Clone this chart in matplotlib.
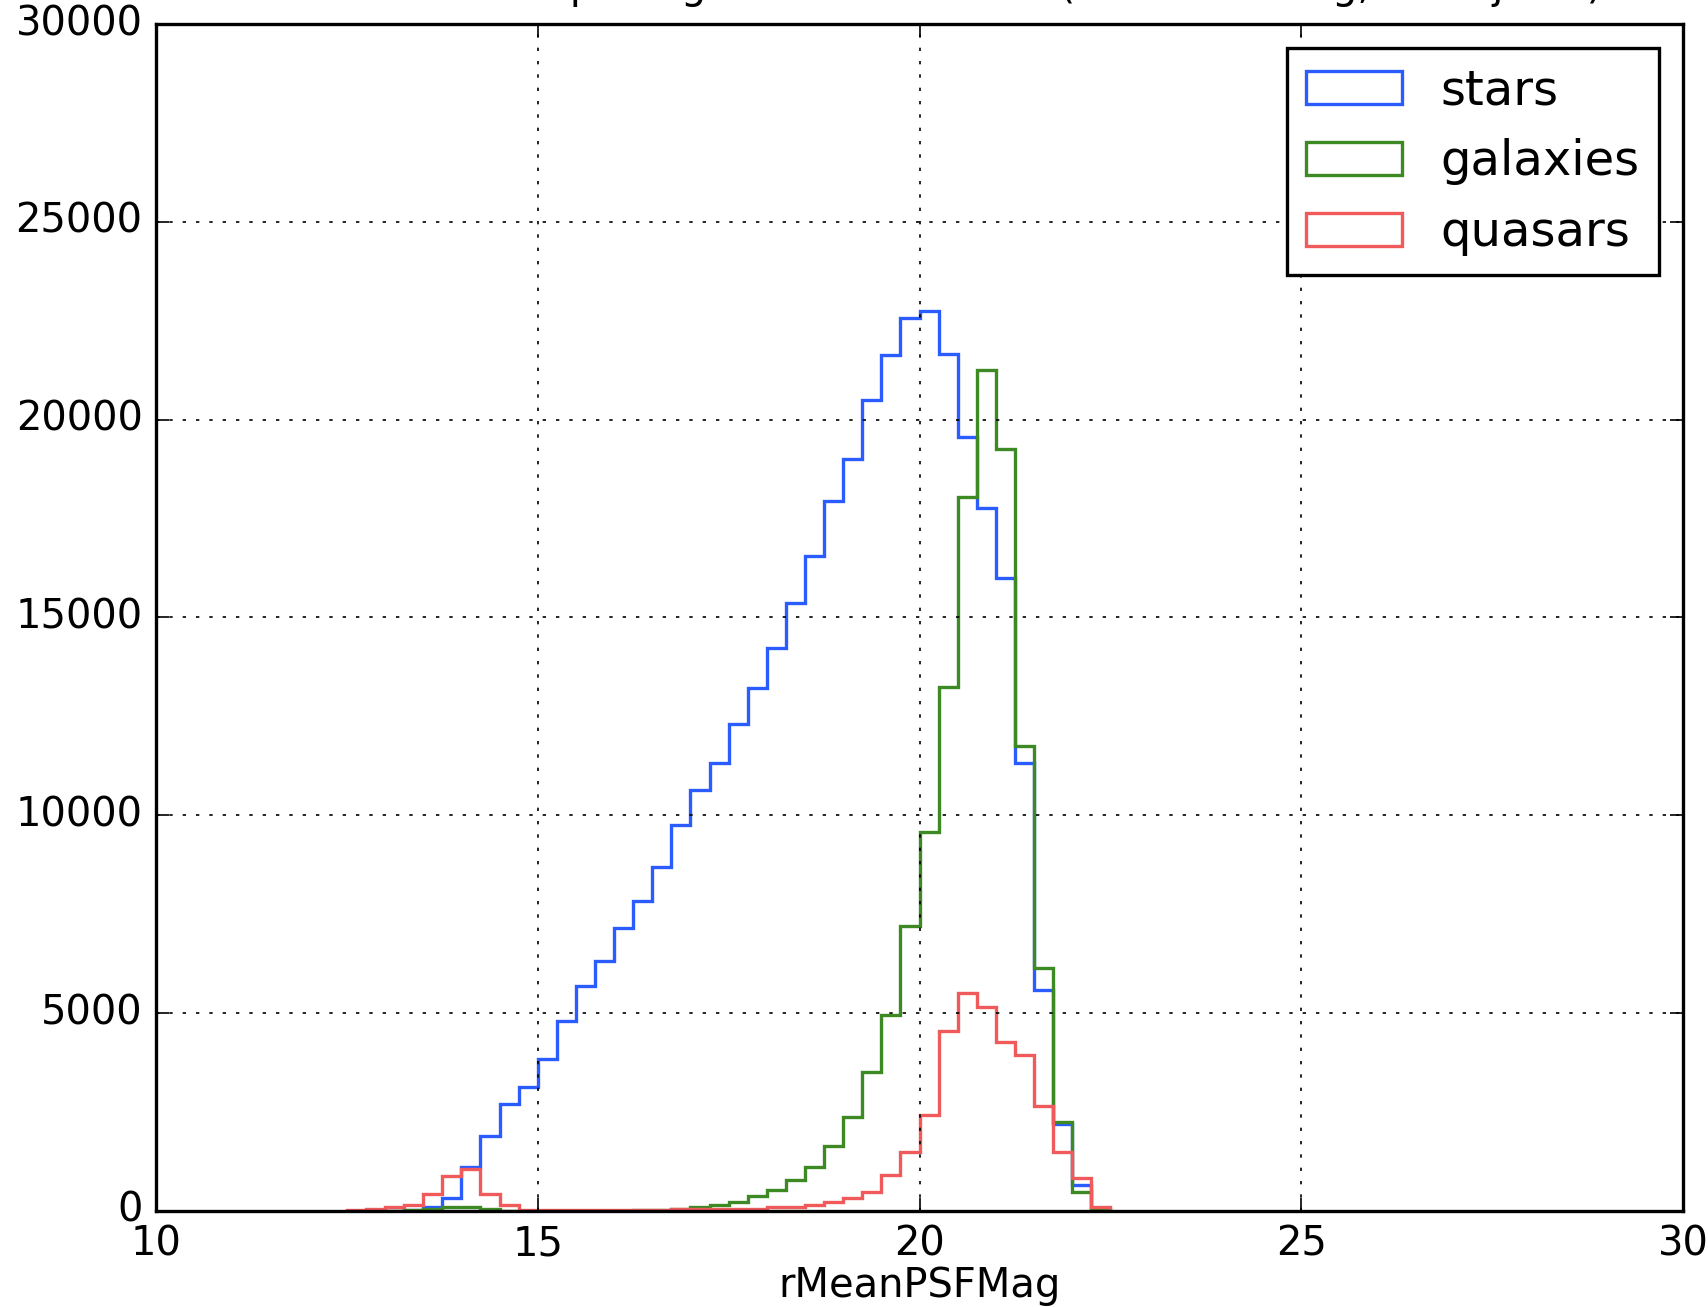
import numpy as np
import matplotlib
matplotlib.use('Agg')
import matplotlib.pyplot as plt

# bins of 0.25 mag, from 12.5 to 22.5
bordas = np.arange(12.5, 22.51, 0.25)

estrelas = [0, 0, 10, 30, 90, 320, 1120, 1900, 2700, 3130,
            3830, 4790, 5690, 6320, 7160, 7830, 8690, 9760, 10640, 11310,
            12320, 13210, 14220, 15370, 16550, 17950, 19000, 20500, 21630, 22560,
            22750, 21660, 19570, 17780, 16010, 11310, 5590, 2200, 660, 20]

galaxias = [0, 0, 0, 20, 50, 90, 110, 60, 10, 0,
            0, 0, 0, 10, 10, 20, 30, 50, 90, 150,
            220, 370, 540, 780, 1120, 1630, 2380, 3520, 4950, 7190,
            9580, 13250, 18050, 21250, 19250, 11750, 6140, 2250, 480, 20]

quasares = [30, 40, 90, 150, 430, 880, 1050, 430, 150, 30,
            30, 30, 30, 30, 30, 30, 30, 40, 40, 60,
            50, 60, 110, 110, 150, 235, 335, 490, 910, 1500,
            2430, 4540, 5500, 5160, 4280, 3940, 2640, 1500, 830, 110]

rotulos = ['stars', 'galaxies', 'quasars']
cores = ['#2a5cff', '#3d8a24', '#f05a5a']

plt.style.use('classic')
fig = plt.figure(figsize=(1708 / 240, 1307 / 240), dpi=240, facecolor='white')
ax = fig.add_axes([0.0913, 0.0735, 0.8941, 0.9081])

centros = bordas[:-1] + 0.125
for valores, rotulo, cor in zip([estrelas, galaxias, quasares], rotulos, cores):
    ax.hist(centros, bins=bordas, weights=valores, histtype='step',
            color=cor, label=rotulo, linewidth=1.0)

ax.set_xlim(10, 30)
ax.set_ylim(0, 30000)
ax.tick_params(axis='x', pad=4)
ax.set_xlabel('rMeanPSFMag', labelpad=0.5)
ax.set_title('Pan-STARRS morphological classification (rMeanPSFMag, all objects)',
             fontsize=12, pad=7.8)
ax.grid(True)
ax.legend(loc='upper right')

plt.savefig('out.png', dpi=240, facecolor='white')
